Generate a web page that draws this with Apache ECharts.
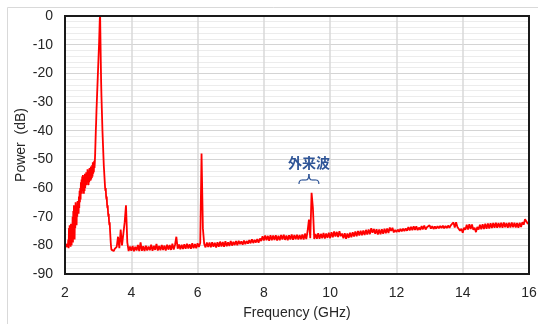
<!DOCTYPE html>
<html lang="ja">
<head>
    <meta charset="UTF-8">
    <title>スペクトル</title>
    <script src="https://cdn.jsdelivr.net/npm/echarts@6/dist/echarts.min.js"></script>
    <style>
        html, body { margin: 0; padding: 0; background: #fff; }
    </style>
</head>
<body>
<div id="main" style="width:538px;height:324px;"></div>
<script type="text/javascript">
    // 測定値 (GHz, dB)  -- 2.00〜3.50 GHz は 0.01 刻み
    var lowStart = 2.00, lowStep = 0.01;
    var lowPower = [
        -80.5, -81, -80.2, -80.8, -79.5, -80.6, -81.2, -80, -80.7, -79.8,
        -78, -81, -74, -80, -73, -79.5, -76, -80.5, -72.5, -78,
        -80, -73, -77, -70, -79, -68, -75, -66, -72, -78,
        -69, -74, -65, -71, -67, -73, -66, -70, -64.5, -68,
        -66, -69, -63, -67, -61, -65, -60, -64, -58, -62,
        -57, -62, -56, -61, -55.5, -60, -57, -62, -56, -61,
        -55, -60, -56, -59, -54.5, -59, -55, -58, -53.5, -58,
        -55, -59, -54, -58, -53, -57, -54, -57.5, -52.5, -57,
        -53, -56.5, -52, -56, -51, -55, -52, -54.5, -50.5, -53,
        -51, -48, -44, -40, -37, -33, -30, -27, -24, -21,
        -18, -15, -12, -9, -5, -1, 0, -8, -16, -23,
        -28, -32, -36, -40, -43, -46, -49, -52, -54, -56,
        -58, -60, -61, -60, -63, -64, -63, -66, -67, -66,
        -69, -70, -69, -72, -73, -72, -75, -77, -79, -80.5,
        -81.5, -81, -82, -81.3, -82, -81.5, -81, -82, -81.4, -81.8, -81.2
    ];
    // 3.52〜16.00 GHz は 0.04 刻み
    var highStart = 3.52, highStep = 0.04;
    var highPower = [
        -81.5, -80.5, -77, -81, -74.5, -80, -76, -72, -66, -79,
        -82.0, -80.4, -81.9, -80.2, -82.1, -80.5, -81.8, -79.9, -82.0, -79.0,
        -81.9, -80.3, -82.0, -80.1, -81.8, -80.4, -81.7, -79.8, -81.9, -80.2,
        -81.6, -79.5, -81.8, -80.2, -81.7, -79.9, -81.6, -80.1, -81.8, -79.8,
        -81.5, -79.9, -81.6, -79.4, -81.5, -79.8, -77.0, -81.2, -79.7, -81.4,
        -79.8, -81.3, -79.6, -81.2, -79.4, -81.1, -79.6, -81.2, -79.3, -81.0,
        -79.5, -81.0, -79.3, -80.6, -79.2, -48.0, -74.0, -79.5, -80.7, -79.0,
        -80.6, -79.0, -80.7, -78.9, -80.5, -79.1, -80.8, -78.9, -80.5, -78.7,
        -80.4, -78.8, -80.5, -78.6, -80.3, -78.9, -80.2, -78.5, -80.1, -78.8,
        -79.9, -78.5, -80.0, -78.4, -79.6, -78.6, -79.8, -78.3, -79.6, -78.5,
        -79.4, -78.2, -79.3, -77.9, -79.2, -78.1, -79.0, -77.8, -79.1, -77.6,
        -78.5, -76.8, -78.3, -76.6, -78.2, -76.7, -78.4, -76.5, -78.2, -76.6,
        -78.1, -76.5, -78.3, -76.7, -78.2, -76.4, -78.0, -76.3, -78.1, -76.6,
        -78.2, -76.5, -78.0, -76.2, -78.1, -76.4, -77.9, -76.3, -78.0, -76.4,
        -77.9, -76.2, -78.0, -75.9, -77.8, -75.0, -71.0, -77.5, -61.7, -67.0,
        -77.8, -76.0, -77.7, -75.8, -77.7, -76.0, -77.5, -75.7, -77.6, -75.9,
        -77.4, -75.6, -77.5, -75.4, -77.2, -75.2, -76.9, -75.3, -77.1, -75.1,
        -76.8, -75.9, -77.5, -75.8, -77.7, -75.9, -77.4, -75.6, -77.2, -75.4,
        -76.9, -75.2, -76.8, -75.0, -76.6, -74.9, -76.5, -74.8, -76.4, -74.6,
        -76.2, -74.5, -76.1, -74.0, -75.6, -74.3, -76.0, -74.4, -76.2, -74.5,
        -76.1, -74.4, -76.0, -74.2, -75.8, -74.1, -75.7, -73.8, -75.0, -73.9,
        -75.5, -74.6, -75.4, -74.5, -75.3, -74.3, -75.1, -74.2, -75.0, -74.1,
        -74.9, -73.6, -74.8, -73.5, -74.7, -73.4, -74.6, -73.4, -74.7, -73.8,
        -74.6, -73.3, -74.4, -73.1, -74.5, -73.7, -74.3, -73.0, -74.2, -73.3,
        -74.3, -73.4, -74.2, -73.3, -74.1, -73.2, -74.0, -73.1, -74.1, -73.2,
        -74.0, -73.1, -73.9, -73.0, -73.6, -72.0, -73.8, -71.9, -73.6, -73.1,
        -74.9, -74.2, -75.6, -73.9, -74.6, -72.8, -74.5, -72.6, -74.3, -72.7,
        -74.6, -73.9, -75.4, -73.6, -74.5, -72.8, -74.4, -72.6, -74.3, -72.5,
        -74.2, -72.4, -74.1, -72.3, -74.0, -72.2, -73.9, -72.1, -73.9, -72.2,
        -73.8, -72.1, -73.9, -72.0, -73.7, -72.2, -73.9, -72.1, -73.8, -72.0,
        -73.7, -72.1, -73.8, -72.2, -73.9, -72.1, -73.6, -71.9, -72.8, -70.9,
        -70.8, -72.4, -72.3
    ];
    var xTicks = [2, 4, 6, 8, 10, 12, 14, 16];
    var noteText = '外来波';
    var noteAt = [9.36, -51];            // 注記の中心 (GHz, dB)
    var braceFrom = [9.06, -58.6], braceTo = [9.66, -55.1];

    function toPairs(start, step, arr) {
        return arr.map(function (p, i) {
            return [+(start + i * step).toFixed(2), p];
        });
    }
    var spectrum = toPairs(lowStart, lowStep, lowPower).concat(toPairs(highStart, highStep, highPower));

    var font = '"Liberation Sans", Arial, sans-serif';
    var myChart = echarts.init(document.getElementById('main'));
    var option = {
        animation: false,
        backgroundColor: '#fff',
        grid: { left: 65, right: 9, top: 16, bottom: 50, outerBoundsMode: 'none', containLabel: false },
        xAxis: {
            type: 'value',
            min: 2, max: 16, interval: 2,
            name: 'Frequency (GHz)',
            nameLocation: 'middle',
            nameGap: 32,
            nameMoveOverlap: false,
            nameTextStyle: { fontFamily: font, fontSize: 14, color: '#262626' },
            axisLine: { show: false },
            axisTick: { show: false },
            axisLabel: {
                margin: 12,
                fontFamily: font, fontSize: 14, color: '#262626',
                formatter: function (v) { return xTicks.indexOf(v) >= 0 ? String(v) : ''; }
            },
            splitLine: { show: true, lineStyle: { color: '#d9d9d9', width: 1.5 } }
        },
        yAxis: {
            type: 'value',
            min: -90, max: 0, interval: 10,
            name: 'Power  (dB)',
            nameLocation: 'middle',
            nameGap: 37,
            nameMoveOverlap: false,
            nameTextStyle: { fontFamily: font, fontSize: 14, color: '#262626' },
            axisLine: { show: false },
            axisTick: { show: false },
            axisLabel: { margin: 12, fontFamily: font, fontSize: 14, color: '#262626' },
            splitLine: { show: true, lineStyle: { color: '#d4d4d4', width: 1.2 } },
            minorTick: { show: false, splitNumber: 5 },
            minorSplitLine: { show: true, lineStyle: { color: '#ececec', width: 1 } }
        },
        series: [{
            type: 'line',
            data: spectrum,
            showSymbol: false,
            sampling: null,
            lineStyle: { color: '#ff0000', width: 1.8 },
            z: 3
        }]
    };
    myChart.setOption(option);

    // 注記と括弧、枠線
    function drawNotes() {
        var toPx = function (v) { return myChart.convertToPixel({ gridIndex: 0 }, v); };
        var tl = toPx([2, 0]), br = toPx([16, -90]);
        var c = toPx(noteAt);
        var a = toPx(braceFrom), b = toPx(braceTo);
        var x0 = a[0], x1 = b[0], yb = a[1], yt = b[1];
        var xm = (x0 + x1) / 2, ym = yb - 4, r = 3;
        var blue = '#2f5597';
        var bs = { stroke: blue, lineWidth: 1.2, fill: null };
        myChart.setOption({
            graphic: [
                {
                    type: 'rect', silent: true, z: -1,
                    shape: { x: 7.5, y: 7.5, width: 560, height: 340 },
                    style: { fill: null, stroke: '#d9d9d9', lineWidth: 1 }
                },
                {
                    type: 'rect', silent: true, z: 20,
                    shape: { x: tl[0], y: tl[1], width: br[0] - tl[0], height: br[1] - tl[1] },
                    style: { fill: null, stroke: '#1a1a1a', lineWidth: 2 }
                },
                {
                    type: 'text', silent: true, z: 10,
                    x: c[0], y: c[1],
                    style: {
                        text: noteText,
                        fill: blue,
                        font: 'bold 14px "Noto Sans CJK JP", "Noto Sans CJK SC", sans-serif',
                        align: 'center', verticalAlign: 'middle'
                    }
                },
                { type: 'bezierCurve', silent: true, z: 10, shape: { x1: x0, y1: yb, cpx1: x0, cpy1: ym, x2: x0 + r, y2: ym }, style: bs },
                { type: 'line', silent: true, z: 10, shape: { x1: x0 + r, y1: ym, x2: xm - r, y2: ym }, style: bs },
                { type: 'bezierCurve', silent: true, z: 10, shape: { x1: xm - r, y1: ym, cpx1: xm, cpy1: ym, x2: xm, y2: yt }, style: bs },
                { type: 'bezierCurve', silent: true, z: 10, shape: { x1: xm, y1: yt, cpx1: xm, cpy1: ym, x2: xm + r, y2: ym }, style: bs },
                { type: 'line', silent: true, z: 10, shape: { x1: xm + r, y1: ym, x2: x1 - r, y2: ym }, style: bs },
                { type: 'bezierCurve', silent: true, z: 10, shape: { x1: x1 - r, y1: ym, cpx1: x1, cpy1: ym, x2: x1, y2: yb }, style: bs }
            ]
        });
    }
    drawNotes();
</script>
</body>
</html>
